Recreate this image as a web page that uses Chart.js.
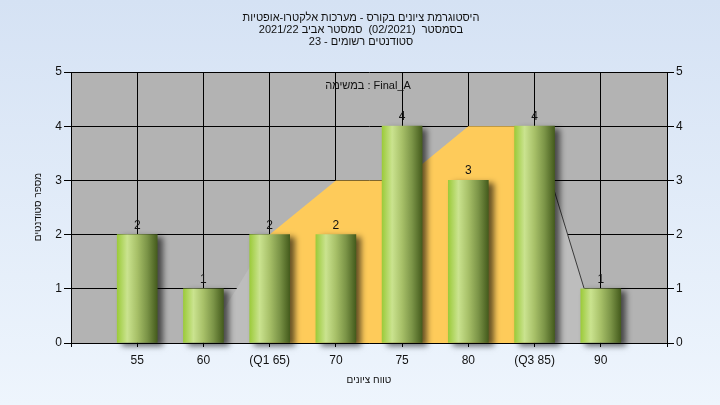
<!DOCTYPE html>
<html dir="ltr">
<head>
<meta charset="utf-8">
<script src="https://cdn.jsdelivr.net/npm/chart.js@4/dist/chart.umd.min.js"></script>
<style>
  html, body { margin: 0; padding: 0; }
  body { width: 720px; height: 405px; overflow: hidden; background: linear-gradient(#d5e2f4, #eef5fd); }
  canvas { display: block; }
</style>
</head>
<body>
<canvas id="myChart" width="720" height="405"></canvas>
<script>
// grade bins on the x axis
const categories = ['55', '60', '(Q1 65)', '70', '75', '80', '(Q3 85)', '90'];
// number of students per bin
const studentCounts = [2, 1, 2, 2, 4, 3, 4, 1];
// light grey band behind the bars (outer range)
const outerBand = [null, 0, 2, null, null, null, 4, 0];
// orange band between Q1 and Q3
const quartileBand = [null, null, 2, 3, 3, 4, 4, null];

const titleLines = [
    'היסטוגרמת ציונים בקורס - מערכות אלקטרו-אופטיות',
    'בסמסטר  (02/2021)  סמסטר אביב 2021/22',
    'סטודנטים רשומים - 23'
];
const subTitle = 'במשימה : Final_A';
const xTitle = 'טווח ציונים';
const yTitle = 'מספר סטודנטים';

const FONT = "'Liberation Sans', Arial, sans-serif";

// empty slot at both ends so the bins sit on the inner grid lines
const pad = arr => [null, ...arr, null];
const labels = ['', ...categories, ''];

function barGradient(context) {
    const chart = context.chart;
    const xs = chart.scales.x;
    if (!xs || !chart.chartArea) return '#9ccb3b';
    const x = xs.getPixelForValue(context.dataIndex);
    const g = chart.ctx.createLinearGradient(x - 20, 0, x + 20, 0);
    g.addColorStop(0, '#9ccb3b');
    g.addColorStop(0.25, '#cae38f');
    g.addColorStop(0.5, '#a7c068');
    g.addColorStop(0.75, '#7b9447');
    g.addColorStop(1, '#455c1d');
    return g;
}

const barShadow = {
    id: 'barShadow',
    beforeDatasetDraw(chart, args) {
        if (args.index !== 0) return;
        const ctx = chart.ctx;
        ctx.save();
        ctx.shadowColor = 'rgba(0,0,0,0.6)';
        ctx.shadowBlur = 6;
        ctx.shadowOffsetX = 5;
        ctx.shadowOffsetY = 3;
    },
    afterDatasetDraw(chart, args) {
        if (args.index !== 0) return;
        chart.ctx.restore();
    }
};

const texts = {
    id: 'texts',
    afterDraw(chart) {
        const ctx = chart.ctx;
        const area = chart.chartArea;
        ctx.save();
        ctx.fillStyle = '#111';
        ctx.textAlign = 'center';
        ctx.textBaseline = 'middle';

        // hebrew texts read right to left
        ctx.direction = 'rtl';
        ctx.font = '11px ' + FONT;
        titleLines.forEach((t, i) => ctx.fillText(t, 361, 18 + i * 12));

        ctx.font = '10px ' + FONT;
        ctx.fillText(xTitle, (area.left + area.right) / 2, 380);
        ctx.save();
        ctx.translate(38, 207);
        ctx.rotate(-Math.PI / 2);
        ctx.fillText(yTitle, 0, 0);
        ctx.restore();

        ctx.direction = 'ltr';
        ctx.font = '11px ' + FONT;
        ctx.fillText(subTitle, 368, 86);

        // value above each bar
        ctx.font = '12px ' + FONT;
        ctx.textBaseline = 'alphabetic';
        const meta = chart.getDatasetMeta(0);
        meta.data.forEach((bar, i) => {
            const v = chart.data.datasets[0].data[i];
            if (v == null) return;
            ctx.fillText(String(v), bar.x, bar.y - 6);
        });
        ctx.restore();
    }
};

const ctx = document.getElementById('myChart').getContext('2d');
const chart = new Chart(ctx, {
    type: 'bar',
    data: {
        labels: labels,
        datasets: [
            {
                type: 'bar',
                data: pad(studentCounts),
                backgroundColor: barGradient,
                borderWidth: 0,
                barThickness: 40,
                clip: false,
                order: 0
            },
            {
                type: 'line',
                data: pad(quartileBand),
                backgroundColor: '#fecb5a',
                borderColor: 'transparent',
                borderWidth: 0,
                pointRadius: 0,
                fill: 'origin',
                tension: 0,
                order: 1
            },
            {
                type: 'line',
                data: pad(outerBand),
                backgroundColor: '#bdbdbd',
                borderWidth: 1,
                borderColor: 'transparent',
                segment: {
                    borderColor: c => c.p0DataIndex === 7 ? '#3a3a3a' : 'transparent'
                },
                spanGaps: true,
                pointRadius: 0,
                fill: 'origin',
                tension: 0,
                order: 2
            }
        ]
    },
    options: {
        responsive: false,
        animation: false,
        devicePixelRatio: 1,
        layout: { padding: { top: 72, left: 0, right: 0, bottom: 0 } },
        plugins: {
            legend: { display: false },
            title: { display: false },
            tooltip: { enabled: false }
        },
        scales: {
            x: {
                type: 'category',
                offset: false,
                grid: { color: '#000', lineWidth: 1, tickLength: 4, offset: false },
                border: { color: '#000' },
                ticks: {
                    autoSkip: false,
                    maxRotation: 0,
                    padding: 6,
                    color: '#111',
                    font: { family: FONT, size: 12 }
                },
                afterFit: s => { s.height = 62; }
            },
            y: {
                position: 'left',
                min: 0,
                max: 5,
                grid: { color: '#000', lineWidth: 1, tickLength: 7 },
                border: { color: '#000' },
                ticks: { stepSize: 1, padding: 2, color: '#111', font: { family: FONT, size: 12 } },
                afterFit: s => { s.width = 71; }
            },
            y2: {
                position: 'right',
                min: 0,
                max: 5,
                grid: { drawOnChartArea: false, color: '#000', tickLength: 7 },
                border: { color: '#000' },
                ticks: { stepSize: 1, padding: 2, color: '#111', font: { family: FONT, size: 12 } },
                afterFit: s => { s.width = 53; }
            }
        }
    },
    plugins: [
        {
            id: 'plotBg',
            beforeDraw(chart) {
                const a = chart.chartArea;
                chart.ctx.save();
                chart.ctx.fillStyle = '#b3b3b3';
                chart.ctx.fillRect(a.left, a.top, a.right - a.left, a.bottom - a.top);
                chart.ctx.restore();
            }
        },
        barShadow,
        texts
    ]
});
</script>
</body>
</html>
